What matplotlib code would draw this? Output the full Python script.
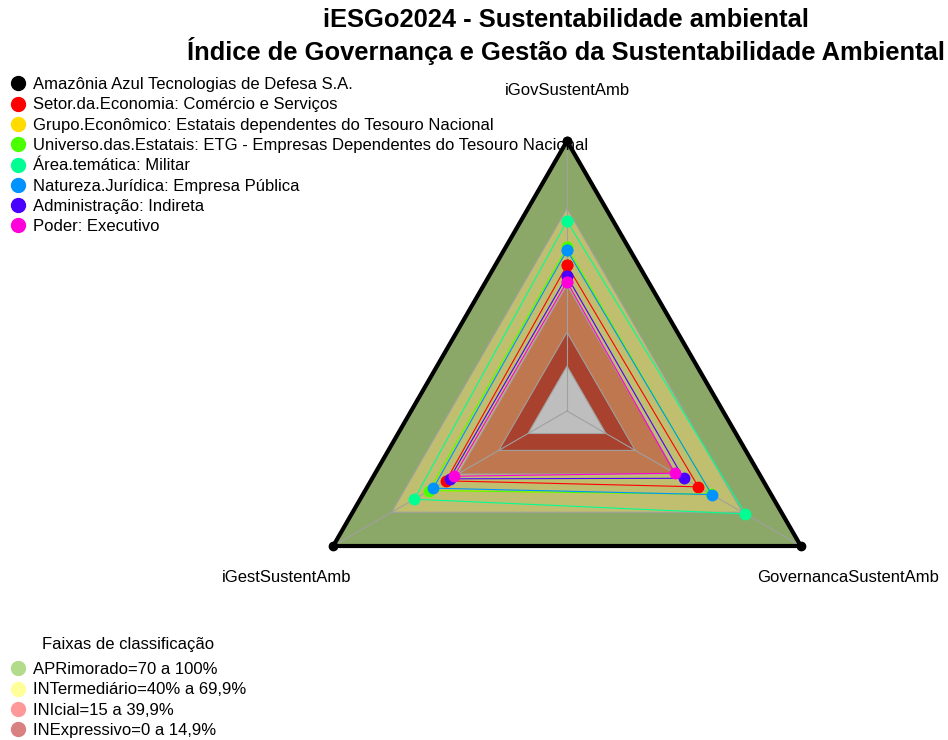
import matplotlib
matplotlib.use("Agg")
import matplotlib.pyplot as plt
from matplotlib.lines import Line2D
import numpy as np

plt.rcParams['font.family'] = ['Liberation Sans', 'DejaVu Sans']

# eixos do radar (ordem anti-horaria a partir do topo)
axes_labels = ["iGovSustentAmb", "iGestSustentAmb", "GovernancaSustentAmb"]

series_names = [
    "Amazônia Azul Tecnologias de Defesa S.A.",
    "Setor.da.Economia: Comércio e Serviços",
    "Grupo.Econômico: Estatais dependentes do Tesouro Nacional",
    "Universo.das.Estatais: ETG - Empresas Dependentes do Tesouro Nacional",
    "Área.temática: Militar",
    "Natureza.Jurídica: Empresa Pública",
    "Administração: Indireta",
    "Poder: Executivo",
]
series_colors = ["#000000", "#FF0000", "#FFDB00", "#49FF00",
                 "#00FF92", "#0092FF", "#4900FF", "#FF00DB"]

# valores (0-1): iGov, iGest, Governanca
amazul = [1.00, 1.00, 1.00]
setor = [0.448, 0.421, 0.474]
grupo = [0.528, 0.507, 0.540]
universo = [0.528, 0.507, 0.540]
area = [0.644, 0.584, 0.715]
natureza = [0.515, 0.486, 0.543]
administracao = [0.399, 0.403, 0.398]
poder = [0.374, 0.380, 0.353]
series_values = [amazul, setor, grupo, universo, area, natureza, administracao, poder]

# faixas de classificacao
band_levels = [1.0, 0.70, 0.36, 0.15, 0.0]
band_colors = ["#8BA868", "#BFBF6F", "#BF774F", "#A8412D", "#BEBEBE"]
faixa_labels = ["APRimorado=70 a 100%", "INTermediário=40% a 69,9%",
                "INIcial=15 a 39,9%", "INExpressivo=0 a 14,9%"]
faixa_colors = ["#B3DB8C", "#FFFF99", "#FF9999", "#D98080"]

seg = 5
angles = np.deg2rad([90, 210, 330])


def radar_xy(vals):
    r = 1.0 / (seg + 1) + np.asarray(vals) * seg / (seg + 1)
    x = r * np.cos(angles)
    y = r * np.sin(angles)
    return np.append(x, x[0]), np.append(y, y[0])


W, H = 948, 740
cx, cy, R = 567, 411, 270
fig = plt.figure(figsize=(W / 100, H / 100), dpi=100)
ax = fig.add_axes([0, 0, 1, 1])
ax.set_xlim(-cx / R, (W - cx) / R)
ax.set_ylim(-(H - cy) / R, cy / R)
ax.axis('off')

for lev, col in zip(band_levels, band_colors):
    x, y = radar_xy([lev] * 3)
    ax.fill(x, y, color=col, ec="#A0A0A0", lw=0.8, zorder=1)

for a in angles:
    ax.plot([0, np.cos(a)], [0, np.sin(a)], color="#A0A0A0", lw=0.8, zorder=2)

for i, (vals, col) in enumerate(zip(series_values, series_colors)):
    x, y = radar_xy(vals)
    lw = 3 if i == 0 else 0.8
    ms = 6 if i == 0 else 7.5
    ax.plot(x, y, color=col, lw=lw, marker='o', ms=ms, mec=col, zorder=3 + i)

for a, lab in zip(angles, axes_labels):
    ax.text(1.2 * np.cos(a), 1.2 * np.sin(a) - 4 / R, lab, ha='center',
            va='center', fontsize=12)

fig.text(566 / W, 1 - 20 / H, "iESGo2024 - Sustentabilidade ambiental",
         ha='center', va='center', fontsize=18.4, fontweight='bold')
fig.text(566 / W, 1 - 51 / H,
         "Índice de Governança e Gestão da Sustentabilidade Ambiental",
         ha='center', va='center', fontsize=18.4, fontweight='bold')

h1 = [Line2D([], [], ls='none', marker='o', ms=10, color=c) for c in series_colors]
leg1 = fig.legend(h1, series_names, loc='upper left',
                  bbox_to_anchor=(10 / W, 1 - 77 / H), frameon=False,
                  fontsize=12, borderpad=0, borderaxespad=0, handlelength=0.95,
                  handletextpad=0.45, labelspacing=0.32)

h2 = [Line2D([], [], ls='none', marker='o', ms=10, color=c) for c in faixa_colors]
leg2 = fig.legend(h2, faixa_labels, loc='lower left',
                  bbox_to_anchor=(10 / W, 2 / H), frameon=False,
                  fontsize=12, borderpad=0, borderaxespad=0, handlelength=0.95,
                  handletextpad=0.45, labelspacing=0.32,
                  title="Faixas de classificação", title_fontsize=12)
leg2._legend_box.sep = 7

fig.savefig("out.png", dpi=100)
